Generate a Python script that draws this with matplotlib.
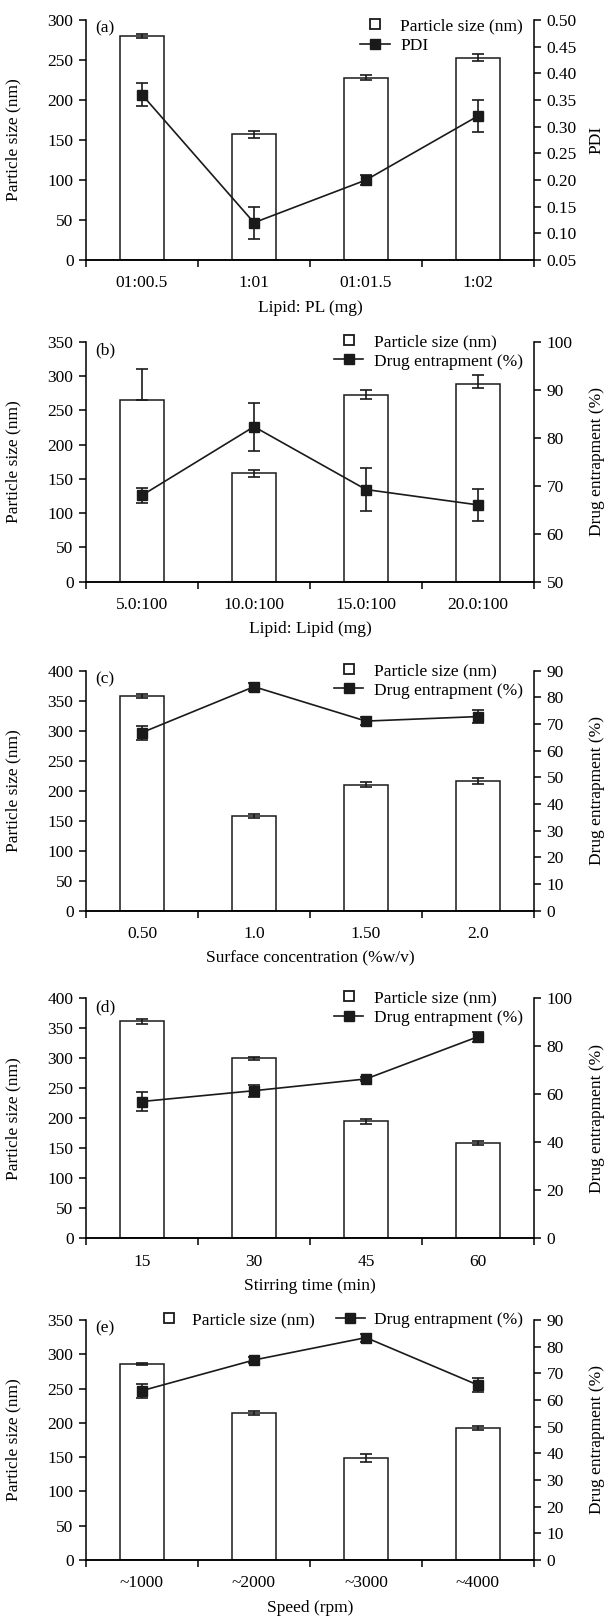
import numpy as np
import matplotlib
matplotlib.use("Agg")
import matplotlib.pyplot as plt
from matplotlib.lines import Line2D
from matplotlib.ticker import FormatStrFormatter

plt.rcParams['font.family'] = ['Liberation Serif', 'DejaVu Serif']
plt.rcParams['font.size'] = 12.5
plt.rcParams['axes.linewidth'] = 1.1

# ---- data ----
cats_a = ['01:00.5', '1:01', '01:01.5', '1:02']
size_a = [280, 157, 228, 253]
size_a_err = [3, 4, 3, 4]
pdi_a = [0.36, 0.12, 0.20, 0.32]
pdi_a_err = [0.021, 0.03, 0.01, 0.03]

cats_b = ['5.0:100', '10.0:100', '15.0:100', '20.0:100']
size_b = [265, 158, 272, 289]
size_b_err_lo = [0, 5, 5, 7]
size_b_err_hi = [45, 5, 8, 13]
ent_b = [68, 82.3, 69.2, 66]
ent_b_err = [1.5, 5, 4.5, 3.3]

cats_c = ['0.50', '1.0', '1.50', '2.0']
size_c = [358, 158, 210, 217]
size_c_err = [3, 3, 4, 5]
ent_c = [66.8, 84, 71.1, 72.8]
ent_c_err = [2.6, 1.5, 1.5, 2.5]

cats_d = ['15', '30', '45', '60']
size_d = [362, 300, 195, 159]
size_d_err = [4, 3, 4, 3]
ent_d = [57, 61.5, 66.4, 84]
ent_d_err = [4, 2.5, 1, 2]

cats_e = ['~1000', '~2000', '~3000', '~4000']
size_e = [286, 215, 149, 193]
size_e_err = [2, 3, 6, 3]
ent_e = [63.5, 75, 83.4, 65.6]
ent_e_err = [2.6, 1, 1.5, 2.5]

W, H = 608, 1623
fig = plt.figure(figsize=(W / 100, H / 100), dpi=100)

INK = '#1a1a1a'


def panel(top, tag, cats, sizes, size_err, line_vals, line_err, xlabel,
          ylim_l, yticks_l, ylim_r, yticks_r, rlabel, line_name,
          one_row=False, rfmt=None, leg_y=1.033):
    ax = fig.add_axes([86 / W, 1 - (top + 240) / H, 448 / W, 240 / H])
    x = np.arange(len(cats)) + 0.5
    ax.bar(x, sizes, width=0.4, color='white', edgecolor=INK, linewidth=1.1, zorder=2)
    ax.errorbar(x, sizes, yerr=size_err, fmt='none', ecolor=INK,
                elinewidth=1.2, capsize=4, capthick=1.2, zorder=3)
    ax.set_xlim(0, 4)
    # boundary ticks at 0..4, category names centred on the bars
    ax.set_xticks([0, 1, 2, 3, 4])
    ax.set_xticklabels([])
    ax.set_xticks(x, minor=True)
    ax.set_xticklabels(cats, minor=True)
    ax.tick_params(axis='x', which='minor', length=0, pad=11)
    ax.tick_params(axis='x', which='major', length=5, width=1.1, direction='out')
    ax.set_ylim(*ylim_l)
    ax.set_yticks(yticks_l)
    ax.tick_params(axis='y', length=5, width=1.1, pad=4)
    ax.spines['top'].set_visible(False)
    ax.spines['right'].set_visible(False)
    ax.set_ylabel('Particle size (nm)')
    ax.yaxis.set_label_coords(-0.145, 0.5)
    ax.set_xlabel(xlabel)
    ax.xaxis.set_label_coords(0.5, -0.165)
    ax.text(0.02, 0.963, tag, transform=ax.transAxes, va='center', ha='left')

    ax2 = ax.twinx()
    ax2.errorbar(x, line_vals, yerr=line_err, color=INK, linewidth=1.2,
                 marker='s', markersize=7, mfc=INK, mec=INK,
                 elinewidth=1.2, capsize=4.5, capthick=1.2)
    ax2.set_ylim(*ylim_r)
    ax2.set_yticks(yticks_r)
    if rfmt:
        ax2.yaxis.set_major_formatter(FormatStrFormatter(rfmt))
    ax2.tick_params(axis='y', length=5, width=1.1, pad=4)
    ax2.spines['top'].set_visible(False)
    ax2.spines['left'].set_visible(False)
    ax2.set_ylabel(rlabel)
    ax2.yaxis.set_label_coords(1.122, 0.5)

    h_bar = Line2D([], [], linestyle='none', marker='s', markersize=6.5,
                   mfc='white', mec=INK, mew=1.3)
    h_line = Line2D([], [], color=INK, linewidth=1.2, marker='s',
                    markersize=7, mfc=INK, mec=INK)
    if one_row:
        ax2.legend([h_bar, h_line], ['Particle size (nm)', line_name], ncol=2,
                   loc='upper right', bbox_to_anchor=(0.975, leg_y), frameon=False,
                   borderpad=0, borderaxespad=0, handlelength=1.7,
                   handletextpad=0.5, columnspacing=1.2)
    else:
        ax2.legend([h_bar, h_line], ['Particle size (nm)', line_name],
                   loc='upper right', bbox_to_anchor=(0.975, leg_y), frameon=False,
                   borderpad=0, borderaxespad=0, handlelength=1.7,
                   handletextpad=0.6, labelspacing=0.2)
    return ax, ax2


panel(20, '(a)', cats_a, size_a, size_a_err, pdi_a, pdi_a_err, 'Lipid: PL (mg)',
      (0, 300), range(0, 301, 50), (0.05, 0.50), np.arange(0.05, 0.501, 0.05),
      'PDI', 'PDI', rfmt='%.2f', leg_y=1.007)
panel(341.7, '(b)', cats_b, size_b, [size_b_err_lo, size_b_err_hi], ent_b, ent_b_err,
      'Lipid: Lipid (mg)', (0, 350), range(0, 351, 50), (50, 100), range(50, 101, 10),
      'Drug entrapment (%)', 'Drug entrapment (%)')
panel(670.7, '(c)', cats_c, size_c, size_c_err, ent_c, ent_c_err,
      'Surface concentration (%w/v)', (0, 400), range(0, 401, 50), (0, 90), range(0, 91, 10),
      'Drug entrapment (%)', 'Drug entrapment (%)')
panel(998.3, '(d)', cats_d, size_d, size_d_err, ent_d, ent_d_err,
      'Stirring time (min)', (0, 400), range(0, 401, 50), (0, 100), range(0, 101, 20),
      'Drug entrapment (%)', 'Drug entrapment (%)')
panel(1320, '(e)', cats_e, size_e, size_e_err, ent_e, ent_e_err,
      'Speed (rpm)', (0, 350), range(0, 351, 50), (0, 90), range(0, 91, 10),
      'Drug entrapment (%)', 'Drug entrapment (%)', one_row=True, leg_y=1.033)

fig.savefig('out.png', dpi=100)
